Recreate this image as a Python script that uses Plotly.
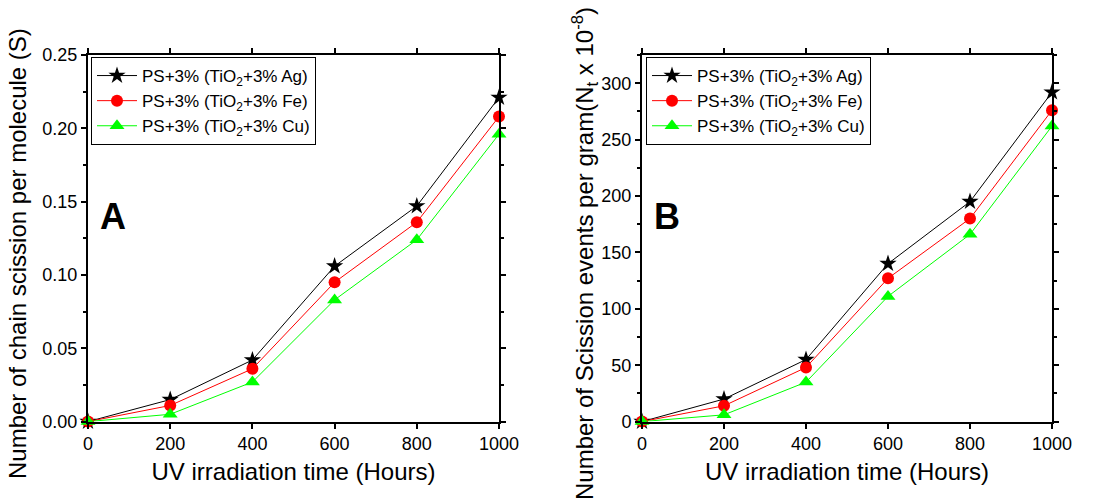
import plotly.graph_objects as go

# UV irradiation time (hours)
hours = [0, 200, 400, 600, 800, 1000]

# Panel A: chain scissions per molecule (S)
s_ag = [0.0, 0.015, 0.042, 0.106, 0.147, 0.221]
s_fe = [0.0, 0.011, 0.036, 0.095, 0.136, 0.208]
s_cu = [0.0, 0.005, 0.027, 0.083, 0.124, 0.196]

# Panel B: scission events per gram (Nt x 10^-8)
n_ag = [0, 20, 55, 140, 195, 292]
n_fe = [0, 14, 48, 127, 180, 276]
n_cu = [0, 6, 35, 111, 166, 262]

series_names = [
    "PS+3% (TiO<sub>2</sub>+3% Ag)",
    "PS+3% (TiO<sub>2</sub>+3% Fe)",
    "PS+3% (TiO<sub>2</sub>+3% Cu)",
]
colors = ["#000000", "#ff0000", "#00ff00"]
symbols = ["star", "circle", "triangle-up"]
sizes = [13, 12, 13]

FONT = "Arial, Liberation Sans, sans-serif"

fig = go.Figure()

for panel, data in ((1, (s_ag, s_fe, s_cu)), (2, (n_ag, n_fe, n_cu))):
    for name, vals, col, sym, sz in zip(series_names, data, colors, symbols, sizes):
        fig.add_trace(go.Scatter(
            x=hours, y=vals, name=name, mode="lines+markers",
            line=dict(color=col, width=1),
            marker=dict(symbol=sym, size=sz, color=col, line=dict(width=0)),
            xaxis="x" if panel == 1 else "x2",
            yaxis="y" if panel == 1 else "y2",
            legend="legend" if panel == 1 else "legend2",
            cliponaxis=False,
        ))

dom_a = [88 / 1102, 499 / 1102]
dom_b = [642 / 1102, 1052 / 1102]
dom_y = [1 - 421.6 / 501, 1 - 55 / 501]

axis_common = dict(
    showline=True, linecolor="black", linewidth=2, mirror="allticks",
    ticks="outside", ticklen=5, tickwidth=1.5, tickcolor="black",
    showgrid=False, zeroline=False, automargin=False,
    tickfont=dict(family=FONT, size=18, color="black"),
)

xaxis_common = dict(axis_common, range=[0, 1000], tickvals=hours,
                    title=dict(text="UV irradiation time (Hours)",
                               font=dict(family=FONT, size=24, color="black"),
                               standoff=10))

legend_common = dict(
    bgcolor="white", bordercolor="black", borderwidth=1,
    font=dict(family=FONT, size=17, color="black"),
    xanchor="left", yanchor="top", tracegroupgap=0, itemwidth=40,
)

fig.update_layout(
    width=1102, height=501,
    margin=dict(l=0, r=0, t=0, b=0),
    paper_bgcolor="white", plot_bgcolor="white",
    font=dict(family=FONT, color="black"),
    xaxis=dict(xaxis_common, domain=dom_a, anchor="y"),
    yaxis=dict(axis_common, domain=dom_y, anchor="x", range=[0, 0.25],
               tickvals=[0, 0.05, 0.10, 0.15, 0.20, 0.25],
               ticktext=["0.00", "0.05", "0.10", "0.15", "0.20", "0.25"],
               minor=dict(ticks="outside", ticklen=3, tickwidth=1.5,
                          tickcolor="black", dtick=0.025, tick0=0)),
    xaxis2=dict(xaxis_common, domain=dom_b, anchor="y2"),
    yaxis2=dict(axis_common, domain=dom_y, anchor="x2", range=[0, 325],
                tickvals=[0, 50, 100, 150, 200, 250, 300],
                minor=dict(ticks="outside", ticklen=3, tickwidth=1.5,
                           tickcolor="black", dtick=25, tick0=0)),
    legend=dict(legend_common, x=dom_a[0] + 3 / 1102, y=dom_y[1] - 2 / 501),
    legend2=dict(legend_common, x=dom_b[0] + 4 / 1102, y=dom_y[1] - 2 / 501),
    showlegend=True,
)

annotations = [
    dict(text="Number of chain scission per molecule (S)", x=18, y=254,
         textangle=-90),
    dict(text="Number of Scission events per gram(N<sub>t</sub> x 10<sup>-8</sup>)",
         x=585, y=254, textangle=-90),
]
for a in annotations:
    fig.add_annotation(
        text=a["text"], x=a["x"] / 1102, y=1 - a["y"] / 501,
        xref="paper", yref="paper", textangle=a["textangle"],
        showarrow=False, xanchor="center", yanchor="middle",
        font=dict(family=FONT, size=24, color="black"),
    )

for label, px in (("A", 113), ("B", 667)):
    fig.add_annotation(
        text=f"<b>{label}</b>", x=px / 1102, y=1 - 216 / 501,
        xref="paper", yref="paper", showarrow=False,
        xanchor="center", yanchor="middle",
        font=dict(family=FONT, size=36, color="black"),
    )

fig.write_html("out.html")
